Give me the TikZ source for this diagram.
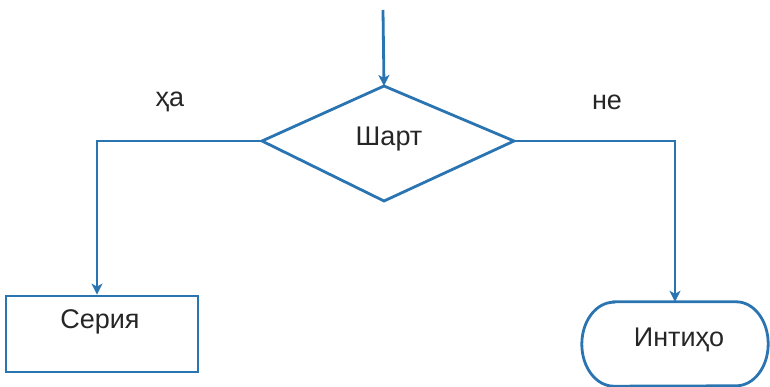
\documentclass[tikz,border=0pt]{standalone}
\usepackage{fontspec}
\setmainfont{Liberation Sans}
\usetikzlibrary{shapes.geometric,arrows.meta}
\definecolor{flowblue}{HTML}{2B74B2}
\tikzset{
  x=1pt, y=-1pt,
  flowline/.style={draw=flowblue, line width=2.8pt},
  flowarrow/.style={flowline, -{Stealth[length=11pt,width=11pt,inset=3pt]}},
  lbl/.style={font=\fontsize{27}{30}\selectfont, text=black!85},
}
\begin{document}
\begin{tikzpicture}
\useasboundingbox (0,0) rectangle (770,387);
% decision diamond
\coordinate (dtop) at (384,86);
\coordinate (dleft) at (262,141);
\coordinate (dright) at (514,141);
\coordinate (dbot) at (384,201);
\draw[flowline, line join=miter] (dtop) -- (dright) -- (dbot) -- (dleft) -- cycle;
\node[lbl] (cond) at (389,139) {Шарт};
% incoming flow
\coordinate (start) at (383,10);
\draw[flowarrow] (start) -- (dtop);
% process box
\node[flowline, rectangle, minimum width=192pt, minimum height=76pt] (seq) at (102,334) {};
\node[lbl] (seqtxt) at (100,322) {Серия};
% terminator: straight top and bottom, half-elliptic ends
\node[rectangle, minimum width=186pt, minimum height=84pt] (term) at (675,344) {};
\draw[flowline] ([xshift=32pt]term.north west) -- ([xshift=-32pt]term.north east)
  arc[x radius=32pt, y radius=42pt, start angle=90, end angle=-90]
  -- ([xshift=32pt]term.south west)
  arc[x radius=32pt, y radius=42pt, start angle=270, end angle=90] -- cycle;
\node[lbl] (termtxt) at (679,340) {Интиҳо};
% branches
\coordinate (lcorner) at (97,141);
\coordinate (rcorner) at (675,141);
\draw[flowarrow] (dleft) -- (lcorner) -- (lcorner |- seq.north);
\draw[flowarrow] (dright) -- (rcorner) -- (term.north);
\node[lbl] (yes) at (170,102) {ҳа};
\node[lbl] (no) at (607,102) {не};
\end{tikzpicture}
\end{document}
